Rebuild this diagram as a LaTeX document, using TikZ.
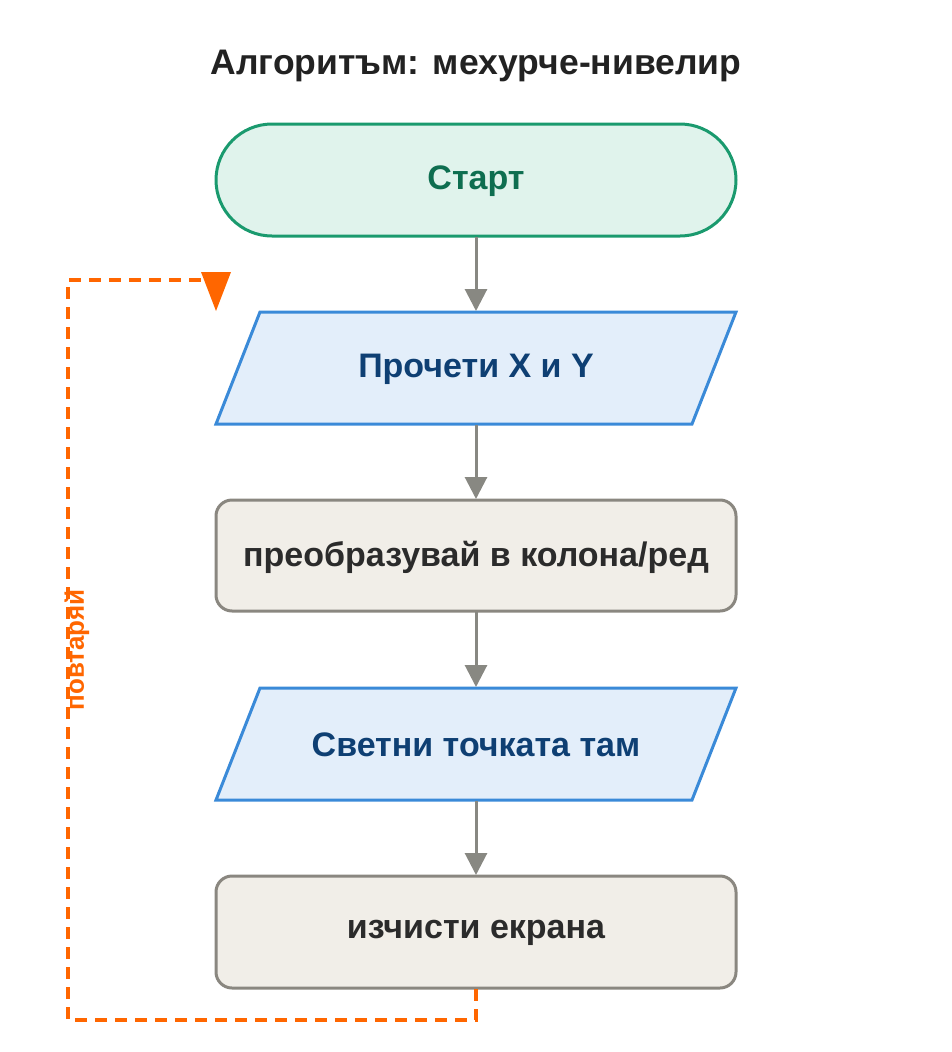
\documentclass[tikz,border=0pt]{standalone}
\usepackage{fontspec}
\usetikzlibrary{arrows.meta}
\setmainfont{Liberation Sans}
\definecolor{orng}{RGB}{255,102,0}
\definecolor{arrg}{RGB}{136,136,130}
\definecolor{iob}{RGB}{58,138,216}
\definecolor{iof}{RGB}{227,238,250}
\definecolor{iot}{RGB}{14,63,115}
\definecolor{prb}{RGB}{138,135,128}
\definecolor{prf}{RGB}{241,238,232}
\definecolor{prt}{RGB}{43,43,43}
\definecolor{stb}{RGB}{26,154,110}
\definecolor{stf}{RGB}{224,243,236}
\definecolor{stt}{RGB}{14,110,80}
\definecolor{ttl}{RGB}{34,34,34}
\begin{document}
\begin{tikzpicture}[x=1pt,y=-1pt,
 lbl/.style={font=\fontsize{34}{40}\selectfont\bfseries},
 arr/.style={draw=arrg,line width=3pt,-{Triangle[length=22pt,width=22pt]}},
 io/.style={draw=iob,fill=iof,line width=3pt,line join=miter},
 proc/.style={draw=prb,fill=prf,line width=3pt,rounded corners=16pt},
 loop/.style={draw=orng,line width=3.5pt,dash pattern=on 12pt off 8pt}]
\useasboundingbox (0,0) rectangle (952,1052);
\node[font=\fontsize{35.5}{40}\selectfont\bfseries,text=ttl] (title) at (476,66) {Алгоритъм: мехурче-нивелир};
\draw[draw=stb,fill=stf,line width=3pt,rounded corners=56pt] (216,124) rectangle (736,236);
\node[lbl,text=stt] (start) at (476,181) {Старт};
\draw[io] (260,312) -- (736,312) -- (692,424) -- (216,424) -- cycle;
\node[lbl,text=iot] (read) at (476,369) {Прочети X и Y};
\draw[proc] (216,500) rectangle (736,611);
\node[lbl,text=prt] (conv) at (476,557) {преобразувай в колона/ред};
\draw[io] (260,688) -- (736,688) -- (692,800) -- (216,800) -- cycle;
\node[lbl,text=iot] (light) at (476,745) {Светни точката там};
\draw[proc] (216,876) rectangle (736,988);
\node[lbl,text=prt] (clear) at (476,933) {изчисти екрана};
\coordinate (s1) at (476,237); \coordinate (e1) at (476,311);
\coordinate (s2) at (476,425); \coordinate (e2) at (476,499);
\coordinate (s3) at (476,612); \coordinate (e3) at (476,687);
\coordinate (s4) at (476,801); \coordinate (e4) at (476,875);
\draw[arr] (s1) -- (e1);
\draw[arr] (s2) -- (e2);
\draw[arr] (s3) -- (e3);
\draw[arr] (s4) -- (e4);
\coordinate (l0) at (476,989); \coordinate (l1) at (476,1020); \coordinate (l2) at (68,1020);
\coordinate (l3) at (68,280); \coordinate (l4) at (205,280);
\draw[loop] (l0) -- (l1) -- (l2) -- (l3) -- (l4);
\fill[orng] (201,272) -- (231,272) -- (216,311) -- cycle;
\node[rotate=90,font=\fontsize{26}{30}\selectfont\bfseries,text=orng] (rep) at (77,650) {повтаряй};
\end{tikzpicture}
\end{document}
